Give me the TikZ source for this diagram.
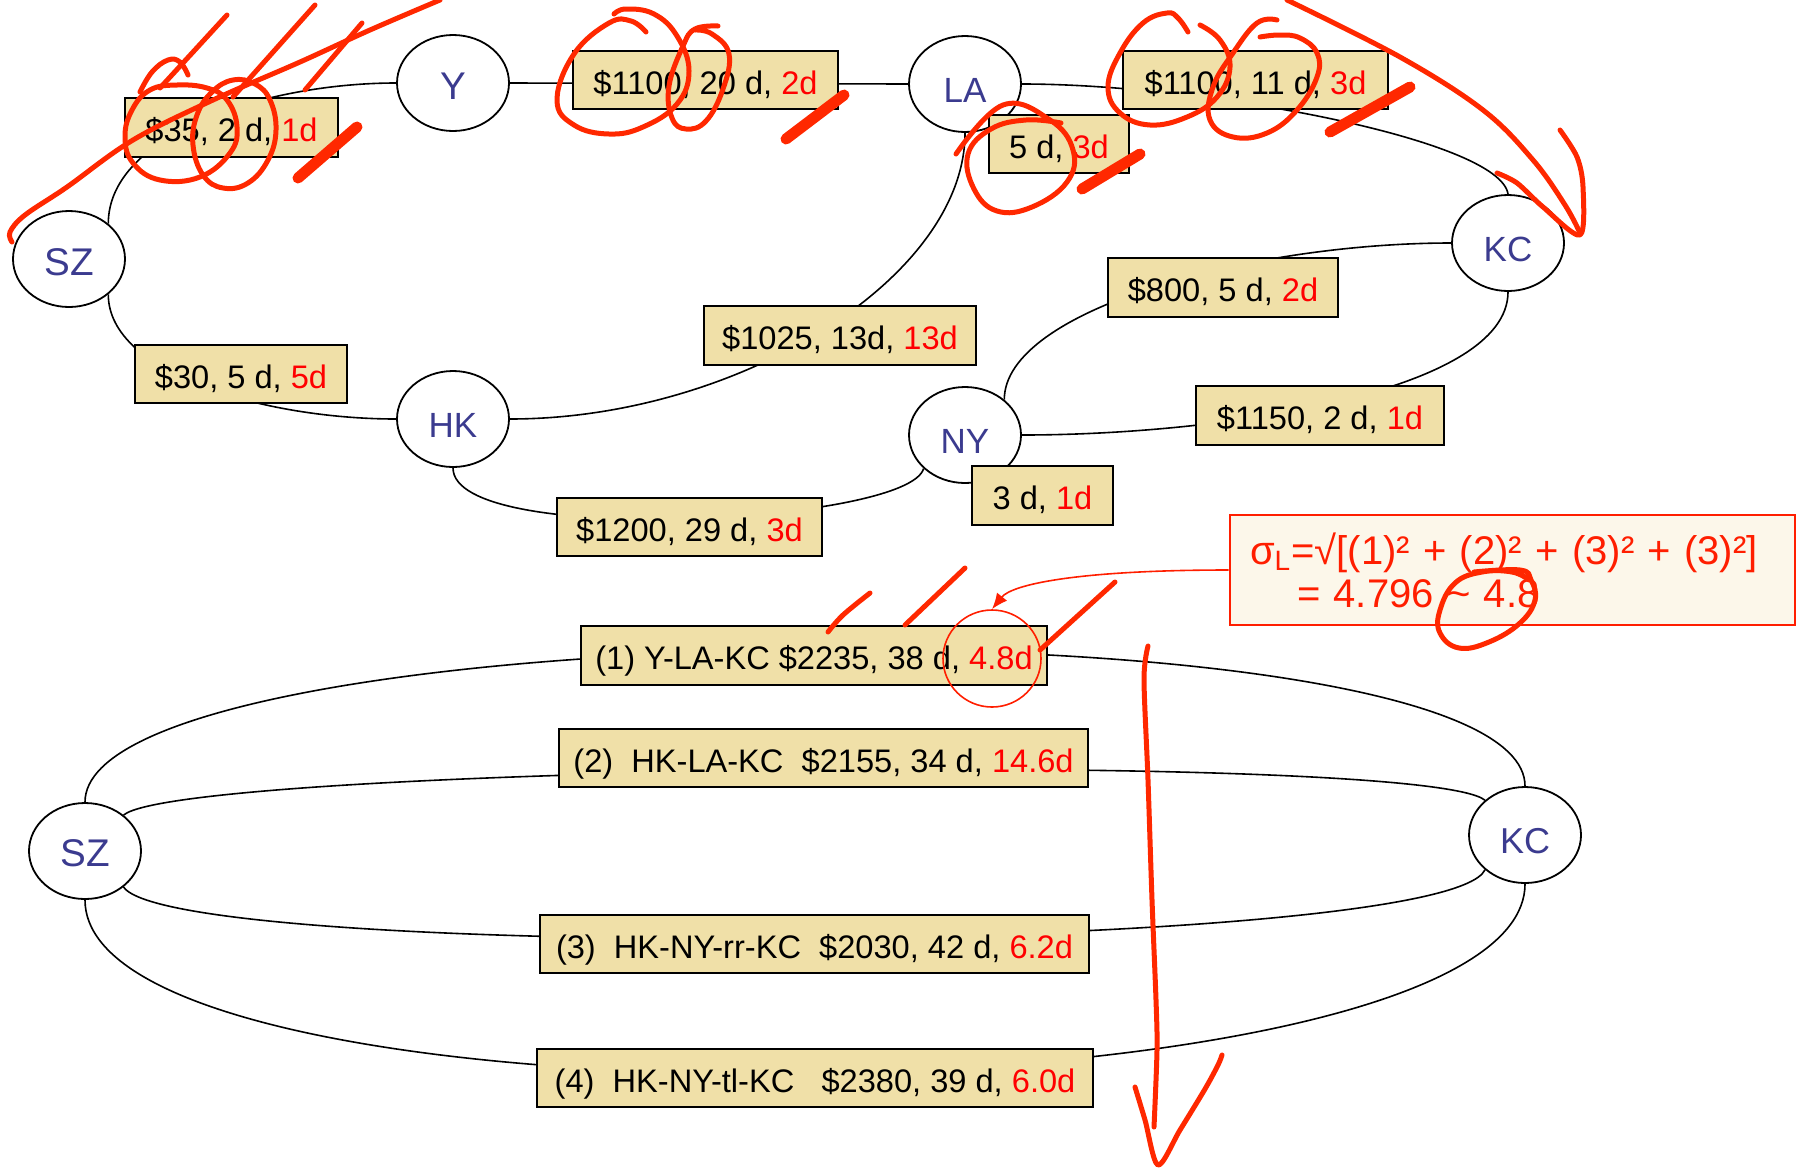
\documentclass[tikz,border=0pt]{standalone}
\usepackage{fontspec}
\setmainfont{Liberation Sans}
\usetikzlibrary{arrows.meta,shapes.geometric}
\definecolor{tan}{RGB}{240,224,168}
\definecolor{cityblue}{RGB}{59,59,143}
\definecolor{txtred}{RGB}{255,0,0}
\definecolor{sigred}{RGB}{255,30,0}
\definecolor{sigfill}{RGB}{252,247,234}
\definecolor{scrred}{RGB}{255,40,0}
\newcommand{\redt}[1]{\textcolor{txtred}{#1}}
\tikzset{
  city/.style={ellipse, draw, line width=0.9pt, fill=white, minimum width=56pt, minimum height=48pt, inner sep=0pt},
  lbl/.style={text=cityblue, inner sep=0pt},
  lbox/.style={draw, fill=tan, line width=1.1pt, minimum height=29.25pt, inner sep=0pt, text height=14.3pt, text depth=0pt, font=\fontsize{16.3}{18}\selectfont},
  conn/.style={draw, line width=0.8pt},
  sigbox/.style={draw=sigred, fill=sigfill, line width=1pt, minimum height=55pt, text width=262pt, align=left, inner xsep=10.25pt, text=sigred, font=\fontsize{20}{21.5}\selectfont},
  redline/.style={draw=sigred, line width=0.8pt},
  scr/.style={draw=scrred, line width=2.5pt, line cap=round, line join=round},
  blob/.style={draw=scrred, line width=5.5pt, line cap=round}
}
\begin{document}
\begin{tikzpicture}[x=0.5pt, y=-0.5pt]
\useasboundingbox (0,0) rectangle (1797,1168);

% ---------- top network: cities ----------
\node[city, label={[lbl, yshift=-1.7pt, font=\fontsize{19.3}{22}\selectfont]center:SZ}] (SZ) at (69,259) {};
\node[city, label={[lbl, yshift=-1.4pt, font=\fontsize{19.3}{22}\selectfont]center:Y}] (Y) at (453,83) {};
\node[city, label={[lbl, yshift=-3pt, font=\fontsize{17.5}{20}\selectfont]center:LA}] (LA) at (965,84) {};
\node[city, label={[lbl, yshift=-3pt, font=\fontsize{17.5}{20}\selectfont]center:KC}] (KC) at (1508,243) {};
\node[city, label={[lbl, yshift=-3pt, font=\fontsize{17.5}{20}\selectfont]center:HK}] (HK) at (453,419) {};
\node[city, label={[lbl, yshift=-3pt, font=\fontsize{17.5}{20}\selectfont]center:NY}] (NY) at (965,435) {};

% ---------- top network: connectors ----------
\draw[conn] (SZ.42) .. controls +(0,-90) and +(-130,0) .. (Y.west);
\draw[conn] (SZ.-42) .. controls +(0,80) and +(-130,0) .. (HK.west);
\draw[conn] (Y.east) -- (LA.west);
\draw[conn] (LA.east) .. controls +(180,0) and +(-8,-55) .. (KC.north);
\draw[conn] (LA.south) .. controls +(0,145) and +(228,0) .. (HK.east);
\draw[conn] (HK.south) .. controls +(0,80) and +(-15,55) .. (NY.219);
\draw[conn] (NY.42) .. controls +(0,-90) and +(-200,0) .. (KC.west);
\draw[conn] (NY.east) .. controls +(200,0) and +(0,100) .. (KC.south);

% ---------- top network: label boxes ----------
\node[lbox, minimum width=106.5pt] (b35) at (231.5,127.5) {\$35, 2 d, \redt{1d}};
\node[lbox, minimum width=132.5pt] (b1100a) at (705.5,80) {\$1100, 20 d, \redt{2d}};
\node[lbox, minimum width=132.5pt] (b1100b) at (1255.5,80) {\$1100, 11 d, \redt{3d}};
\node[lbox, minimum width=70pt] (b5d) at (1059,144) {5 d, \redt{3d}};
\node[lbox, minimum width=106pt] (b30) at (241,374) {\$30, 5 d, \redt{5d}};
\node[lbox, minimum width=136pt] (b1025) at (840,335.5) {\$1025, 13d, \redt{13d}};
\node[lbox, minimum width=132.5pt] (b1200) at (689.5,527) {\$1200, 29 d, \redt{3d}};
\node[lbox, minimum width=115pt] (b800) at (1223,287.5) {\$800, 5 d, \redt{2d}};
\node[lbox, minimum width=124pt] (b1150) at (1320,415.5) {\$1150, 2 d, \redt{1d}};
\node[lbox, minimum width=70.5pt] (b3d) at (1042.5,495.5) {3 d, \redt{1d}};

% ---------- bottom network ----------
\node[city, label={[lbl, yshift=-1.3pt, font=\fontsize{19.3}{22}\selectfont]center:SZ}] (SZb) at (85,851) {};
\node[city, label={[lbl, yshift=-3pt, font=\fontsize{18}{20}\selectfont]center:KC}] (KCb) at (1525,835) {};

\draw[conn] (SZb.north) .. controls +(0,-192) and +(0,-192) .. (KCb.north);
\draw[conn] (SZb.43) .. controls +(60,-50) and +(-60,-50) .. (KCb.139);
\draw[conn] (SZb.-43) .. controls +(50,75) and +(-40,85) .. (KCb.-139);
\draw[conn] (SZb.south) .. controls +(0,242) and +(0,242) .. (KCb.south);

\node[lbox, minimum width=233pt] (r1) at (814,655.5) {(1) Y-LA-KC \$2235, 38 d, \redt{4.8d}};
\node[lbox, minimum width=264.5pt] (r2) at (823.5,758) {(2)\ \ HK-LA-KC\ \ \$2155, 34 d, \redt{14.6d}};
\node[lbox, minimum width=274.5pt] (r3) at (814.5,944) {(3)\ \ HK-NY-rr-KC\ \ \$2030, 42 d, \redt{6.2d}};
\node[lbox, minimum width=278pt] (r4) at (815,1078) {(4)\ \ HK-NY-tl-KC\ \ \ \$2380, 39 d, \redt{6.0d}};

% ---------- sigma note ----------
\node[sigbox] (sigma) at (1512,570) {σ\textsubscript{L}=√[(1)² + (2)² + (3)² + (3)²]\\\hspace*{23.5pt}= 4.796 \textasciitilde{} 4.8};
\node[ellipse, draw=sigred, line width=0.8pt, minimum width=49pt, minimum height=48.5pt, inner sep=0pt] (hl) at (992,658.5) {};
\draw[redline, -{Latex[length=8pt,width=6.5pt]}] (sigma.west) .. controls +(-150,0) and +(20,-25) .. (hl.north);

% ---------- handwritten annotations ----------
\draw[scr] plot[smooth, tension=0.6] coordinates {(12,242) (10,232) (25,215) (67,187) (133,140) (213,100) (300,62) (370,30) (440,0)};
\draw[scr] (227,15) -- (160,88);
\draw[scr] plot[smooth, tension=0.7] coordinates {(188,75) (180,62) (168,60) (152,72) (140,92)};
\draw[scr] plot[smooth cycle, tension=0.7] coordinates {(207,88) (177,85) (150,90) (132,110) (125,137) (133,163) (160,180) (200,177) (230,153) (237,127) (227,100)};
\draw[scr] plot[smooth cycle, tension=0.7] coordinates {(233,80) (212,92) (197,115) (193,145) (203,175) (223,188) (248,183) (268,160) (276,130) (270,100) (255,84)};
\draw[scr] (315,5) -- (233,97);
\draw[scr] (362,23) -- (305,90);
\draw[blob] (357,127) -- (298,178);

\draw[scr] plot[smooth, tension=0.7] coordinates {(646,32) (631,21) (609,23) (574,54) (557,100) (574,125) (609,134) (643,127) (677,104) (689,71) (677,36) (654,14) (626,9) (614,14)};
\draw[scr] plot[smooth, tension=0.7] coordinates {(718,26) (695,29) (683,46) (669,86) (672,118) (686,129) (706,121) (723,89) (729,54) (712,34) (695,30)};
\draw[blob] (844,95) -- (786,139);

\draw[scr] plot[smooth, tension=0.7] coordinates {(1188,32) (1178,18) (1167,13) (1143,23) (1120,53) (1108,87) (1120,113) (1150,125) (1187,117) (1217,97) (1230,67) (1220,40) (1200,25)};
\draw[scr] plot[smooth, tension=0.7] coordinates {(1277,20) (1257,23) (1233,53) (1213,87) (1210,120) (1233,137) (1267,133) (1297,110) (1317,77) (1317,53) (1300,38) (1280,35) (1260,37)};
\draw[blob] (1410,87) -- (1330,132);

\draw[scr] plot[smooth, tension=0.6] coordinates {(1287,0) (1400,57) (1483,110) (1533,160) (1565,205) (1580,233)};
\draw[scr] plot[smooth, tension=0.5] coordinates {(1497,173) (1517,183) (1543,207) (1580,235) (1583,187) (1577,157) (1560,130)};

\draw[scr] plot[smooth, tension=0.7] coordinates {(956,154) (1003,105) (1050,120) (1073,150) (1067,182) (1032,207) (997,211) (974,189) (968,154) (991,129) (1026,120) (1061,123)};
\draw[blob] (1140,154) -- (1082,189);

\draw[scr] plot[smooth, tension=0.6] coordinates {(828,632) (843,615) (870,593)};
\draw[scr] (905,625) -- (965,568);
\draw[scr] (1040,650) -- (1115,582);

\draw[scr] plot[smooth, tension=0.5] coordinates {(1148,646) (1144,679) (1148,780) (1152,900) (1156,1000) (1157,1050) (1154,1127)};
\draw[scr] plot[smooth, tension=0.5] coordinates {(1135,1087) (1145,1120) (1158,1165) (1180,1130) (1205,1089) (1218,1065) (1222,1055)};

\draw[scr] plot[smooth, tension=0.7] coordinates {(1474,572) (1520,570) (1531,580) (1535,600) (1520,623) (1489,642) (1459,648) (1440,633) (1440,610) (1455,583) (1482,572) (1512,572) (1529,580)};
\end{tikzpicture}
\end{document}
